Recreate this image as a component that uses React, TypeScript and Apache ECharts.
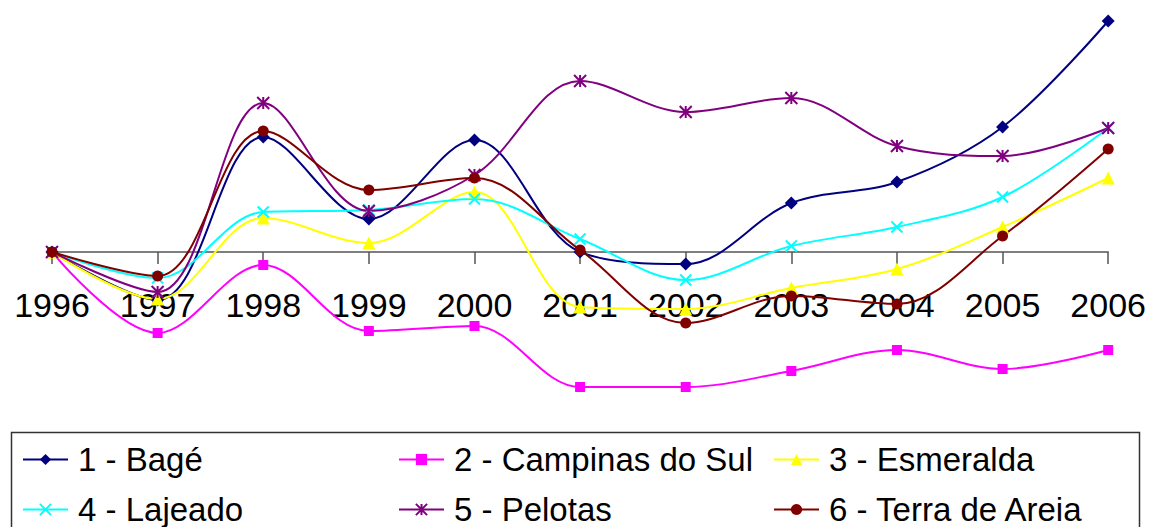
import React, { useEffect, useRef } from "react";
import * as echarts from "echarts";

const years = ["1996", "1997", "1998", "1999", "2000", "2001", "2002", "2003", "2004", "2005", "2006"];
const seriesNames = ["1 - Bagé", "2 - Campinas do Sul", "3 - Esmeralda", "4 - Lajeado", "5 - Pelotas", "6 - Terra de Areia"];
const bage = [0, -48, 115, 33, 112, 0, -12, 49, 70, 125, 231];
const campinas = [0, -81, -13, -79, -74, -135, -135, -119, -98, -117, -98];
const esmeralda = [0, -47, 34, 9, 60, -55, -57, -36, -17, 25, 74];
const lajeado = [0, -26, 40, 42, 53, 13, -28, 6, 25, 55, 124];
const pelotas = [0, -40, 149, 41, 77, 171, 140, 154, 106, 96, 124];
const terra = [0, -24, 121, 62, 74, 2, -71, -44, -52, 16, 103];

const FONT = "'Liberation Sans', Arial, sans-serif";

export default function App() {
  const ref = useRef<HTMLDivElement>(null);
  useEffect(() => {
    if (!ref.current) return;
    const chart = echarts.init(ref.current, null, { renderer: "svg" });
    const data = [bage, campinas, esmeralda, lajeado, pelotas, terra];
    const colors = ["#000080", "#FF00FF", "#FFFF00", "#00FFFF", "#800080", "#800000"];
    const symbols = [
      "diamond",
      "rect",
      "triangle",
      "path://M0,0L10,10M10,0L0,10",
      "path://M0,0L10,10M10,0L0,10M5,0L5,10",
      "circle",
    ];
    const sizes = [13, 10, 13, 11, 12, 11];
    const stroked = [false, false, false, true, true, false];
    const legendPos = [
      { left: 22, top: 443 },
      { left: 398, top: 443 },
      { left: 773, top: 443 },
      { left: 22, top: 493 },
      { left: 398, top: 493 },
      { left: 773, top: 493 },
    ];
    chart.setOption({
      animation: false,
      backgroundColor: "#ffffff",
      grid: { left: 52, right: 38, top: 0, height: 392, containLabel: false },
      xAxis: {
        type: "category",
        data: years,
        boundaryGap: false,
        axisLine: { onZero: true, lineStyle: { color: "#555555", width: 1.5 } },
        axisTick: { show: true, length: 12, inside: false, lineStyle: { color: "#555555", width: 1.5 } },
        axisLabel: { color: "#000000", fontSize: 34, fontFamily: FONT, margin: -104, interval: 0 },
        splitLine: { show: false },
      },
      yAxis: {
        type: "value",
        min: -140,
        max: 252,
        show: false,
        splitLine: { show: false },
      },
      legend: legendPos.map((p, i) => ({
        data: [seriesNames[i]],
        left: p.left,
        top: p.top,
        padding: 0,
        itemWidth: 45,
        itemHeight: 14,
        selectedMode: false,
        textStyle: { color: "#000000", fontSize: 33, fontFamily: FONT, padding: [0, 0, 0, 5] },
      })),
      graphic: [
        {
          type: "rect",
          shape: { x: 11.5, y: 432.5, width: 1128, height: 120 },
          style: { fill: "none", stroke: "#333333", lineWidth: 1.5 },
          silent: true,
        },
      ],
      series: data.map((d, i) => ({
        name: seriesNames[i],
        type: "line",
        data: d,
        smooth: 0.35,
        symbol: symbols[i],
        symbolSize: sizes[i],
        showAllSymbol: true,
        lineStyle: { color: colors[i], width: 2 },
        itemStyle: stroked[i]
          ? { color: colors[i], borderColor: colors[i], borderWidth: 2 }
          : { color: colors[i], borderWidth: 0 },
        emphasis: { disabled: true },
      })),
    });
    return () => chart.dispose();
  }, []);
  return (
    <div
      ref={ref}
      style={{ position: "fixed", left: 0, top: 0, width: 1149, height: 527, background: "#fff" }}
    />
  );
}
